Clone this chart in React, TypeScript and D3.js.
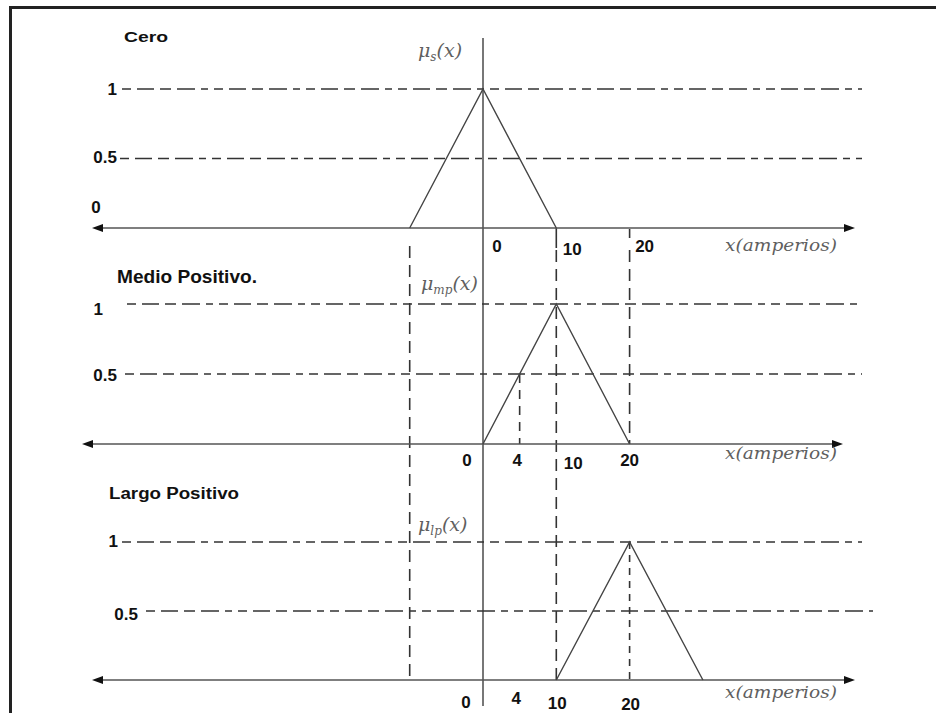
import React from "react";
import * as d3 from "d3";

// Fuzzy sets for the current variable (x in amperes, membership 0..1)
const panelTitles = ["Cero", "Medio Positivo.", "Largo Positivo"];
const muSubscripts = ["s", "mp", "lp"];
const ceroSet: [number, number][] = [[-10, 0], [0, 1], [10, 0]];
const medioSet: [number, number][] = [[0, 0], [10, 1], [20, 0]];
const largoSet: [number, number][] = [[10, 0], [20, 1], [30, 0]];
const levelValues = [1, 0.5];
const levelLabels = ["1", "0.5"];
const ceroTicks = [0, 10, 20];
const ceroTickLabels = ["0", "10", "20"];
const medioTicks = [0, 4, 10, 20];
const medioTickLabels = ["0", "4", "10", "20"];
const largoTicks = [0, 4, 10, 20];
const largoTickLabels = ["0", "4", "10", "20"];
const unitLabel = "x(amperios)";

const W = 936;
const H = 713;

const x = d3.scaleLinear().domain([0, 10]).range([483, 556.3]);

const INK = "#333";
const AXIS = "#555";
const GREY_TEXT = "#5f5f5f";
const H_DASH = "9 6 17 6 11 6 18 6 7 6";
const V_DASH = "12 7";
const SANS = "Liberation Sans, Arial, sans-serif";
const SERIF = "DejaVu Serif, Liberation Serif, serif";
const NUM_SIZE = 17;

type Panel = {
  title: string;
  sub: string;
  set: [number, number][];
  ticks: number[];
  tickLabels: string[];
  axisY: number;
  oneY: number;
  titlePos: { x: number; y: number; w: number; fs: number };
  muPos: { x: number; y: number };
  unitY: number;
  arrowL: number;
  arrowR: number;
  levelText: { xEnd: number; dy: number }[];
  levelLine: { x0: number; x1: number }[];
  tickPos: { dx: number; y: number }[];
};

const panels: Panel[] = [
  {
    title: panelTitles[0], sub: muSubscripts[0], set: ceroSet,
    ticks: ceroTicks, tickLabels: ceroTickLabels,
    axisY: 228, oneY: 89,
    titlePos: { x: 124, y: 42, w: 44, fs: 15 },
    muPos: { x: 418, y: 57 },
    unitY: 251, arrowL: 92, arrowR: 855,
    levelText: [{ xEnd: 117, dy: 0 }, { xEnd: 117, dy: -2 }],
    levelLine: [{ x0: 122, x1: 862 }, { x0: 120, x1: 862 }],
    tickPos: [{ dx: 14, y: 252 }, { dx: 16, y: 255 }, { dx: 15, y: 252 }],
  },
  {
    title: panelTitles[1], sub: muSubscripts[1], set: medioSet,
    ticks: medioTicks, tickLabels: medioTickLabels,
    axisY: 444, oneY: 304,
    titlePos: { x: 117, y: 283, w: 140, fs: 18 },
    muPos: { x: 421, y: 290 },
    unitY: 459, arrowL: 82, arrowR: 843,
    levelText: [{ xEnd: 103, dy: 5 }, { xEnd: 117, dy: 1 }],
    levelLine: [{ x0: 127, x1: 862 }, { x0: 125, x1: 862 }],
    tickPos: [{ dx: -16, y: 466 }, { dx: 5, y: 466 }, { dx: 17, y: 469 }, { dx: 0, y: 466 }],
  },
  {
    title: panelTitles[2], sub: muSubscripts[2], set: largoSet,
    ticks: largoTicks, tickLabels: largoTickLabels,
    axisY: 680, oneY: 542,
    titlePos: { x: 109, y: 499, w: 130, fs: 16 },
    muPos: { x: 418, y: 531 },
    unitY: 698, arrowL: 92, arrowR: 855,
    levelText: [{ xEnd: 118, dy: -1 }, { xEnd: 138, dy: 3 }],
    levelLine: [{ x0: 122, x1: 862 }, { x0: 146, x1: 873 }],
    tickPos: [{ dx: -17, y: 708 }, { dx: 4, y: 704 }, { dx: 1, y: 709 }, { dx: 1, y: 710 }],
  },
];

// x where the rising edge of a triangular set reaches membership m
function risingCross(set: [number, number][], m: number) {
  const [a, b] = set;
  return a[0] + ((m - a[1]) / (b[1] - a[1])) * (b[0] - a[0]);
}

function Arrow({ tip, y, dir }: { tip: number; y: number; dir: 1 | -1 }) {
  const len = 11;
  const half = 4;
  const base = tip - dir * len;
  return <path d={`M${tip},${y} L${base},${y - half} L${base},${y + half} Z`} fill="#111" />;
}

function PanelView({ p, idx }: { p: Panel; idx: number }) {
  const y = d3.scaleLinear().domain([0, 1]).range([p.axisY, p.oneY]);
  const line = d3.line<[number, number]>().x((d) => x(d[0])).y((d) => y(d[1]));
  return (
    <g>
      <text
        x={p.titlePos.x}
        y={p.titlePos.y}
        fontFamily={SANS}
        fontWeight="bold"
        fontSize={p.titlePos.fs}
        textLength={p.titlePos.w}
        lengthAdjust="spacingAndGlyphs"
        fill="#111"
      >
        {p.title}
      </text>

      {levelValues.map((v, i) => (
        <g key={v}>
          <line
            x1={p.levelLine[i].x0}
            x2={p.levelLine[i].x1}
            y1={y(v)}
            y2={y(v)}
            stroke={INK}
            strokeWidth={1.6}
            strokeDasharray={H_DASH}
          />
          <text
            x={p.levelText[i].xEnd}
            y={y(v) + 6 + p.levelText[i].dy}
            textAnchor="end"
            fontFamily={SANS}
            fontWeight="bold"
            fontSize={NUM_SIZE}
            fill="#111"
          >
            {levelLabels[i]}
          </text>
        </g>
      ))}

      {idx === 0 && (
        <text x={96} y={213} textAnchor="middle" fontFamily={SANS} fontWeight="bold" fontSize={NUM_SIZE} fill="#111">
          0
        </text>
      )}

      <line x1={p.arrowL + 8} x2={p.arrowR - 8} y1={p.axisY} y2={p.axisY} stroke={AXIS} strokeWidth={1.6} />
      <Arrow tip={p.arrowL} y={p.axisY} dir={-1} />
      <Arrow tip={p.arrowR} y={p.axisY} dir={1} />

      <path d={line(p.set) ?? ""} fill="none" stroke="#444" strokeWidth={1.4} />

      <text x={p.muPos.x} y={p.muPos.y} fontFamily={SERIF} fontStyle="italic" fontSize={19} fill={GREY_TEXT}>
        μ
        <tspan fontSize={12} dy={4}>{p.sub}</tspan>
        <tspan dy={-4}>(x)</tspan>
      </text>

      <text
        x={725}
        y={p.unitY}
        fontFamily={SERIF}
        fontStyle="italic"
        fontSize={17}
        textLength={112}
        lengthAdjust="spacingAndGlyphs"
        fill={GREY_TEXT}
      >
        {unitLabel}
      </text>

      {p.ticks.map((t, i) => (
        <text
          key={t}
          x={x(t) + p.tickPos[i].dx}
          y={p.tickPos[i].y}
          textAnchor="middle"
          fontFamily={SANS}
          fontWeight="bold"
          fontSize={NUM_SIZE}
          fill="#111"
        >
          {p.tickLabels[i]}
        </text>
      ))}
    </g>
  );
}

export default function App() {
  const [p1, p2, p3] = panels;
  const y2 = d3.scaleLinear().domain([0, 1]).range([p2.axisY, p2.oneY]);
  const y3 = d3.scaleLinear().domain([0, 1]).range([p3.axisY, p3.oneY]);
  const halfX = x(risingCross(medioSet, 0.5));
  const peak3 = largoSet[1][0];

  return (
    <svg width={W} height={H} style={{ position: "absolute", left: 0, top: 0, background: "#fff" }}>
      <rect x={0} y={0} width={W} height={H} fill="#fff" />
      {/* frame */}
      <line x1={10} x2={W} y1={7.5} y2={7.5} stroke="#222" strokeWidth={3} />
      <line x1={10.5} x2={10.5} y1={6} y2={H} stroke="#222" strokeWidth={3} />

      {/* vertical membership axis */}
      <line x1={x(0)} x2={x(0)} y1={38} y2={706} stroke={AXIS} strokeWidth={1.6} />

      {/* vertical guide lines tying the sets together */}
      <line x1={x(-10)} x2={x(-10)} y1={246} y2={p3.axisY} stroke={INK} strokeWidth={1.6} strokeDasharray={V_DASH} />
      <line x1={x(10)} x2={x(10)} y1={p1.axisY} y2={248} stroke={INK} strokeWidth={1.6} />
      <line x1={x(10)} x2={x(10)} y1={250} y2={p3.axisY} stroke={INK} strokeWidth={1.6} strokeDasharray={V_DASH} />
      <line x1={x(20)} x2={x(20)} y1={p1.axisY + 1} y2={238} stroke={INK} strokeWidth={1.6} />
      <line x1={x(20)} x2={x(20)} y1={250} y2={p2.axisY} stroke={INK} strokeWidth={1.6} strokeDasharray={V_DASH} />
      <line x1={halfX} x2={halfX} y1={y2(0.5)} y2={p2.axisY} stroke={INK} strokeWidth={1.6} strokeDasharray="9 7" />
      <line x1={x(peak3)} x2={x(peak3)} y1={y3(1)} y2={p3.axisY} stroke={INK} strokeWidth={1.6} strokeDasharray="7 6" />

      {panels.map((p, i) => (
        <PanelView key={p.title} p={p} idx={i} />
      ))}
    </svg>
  );
}
